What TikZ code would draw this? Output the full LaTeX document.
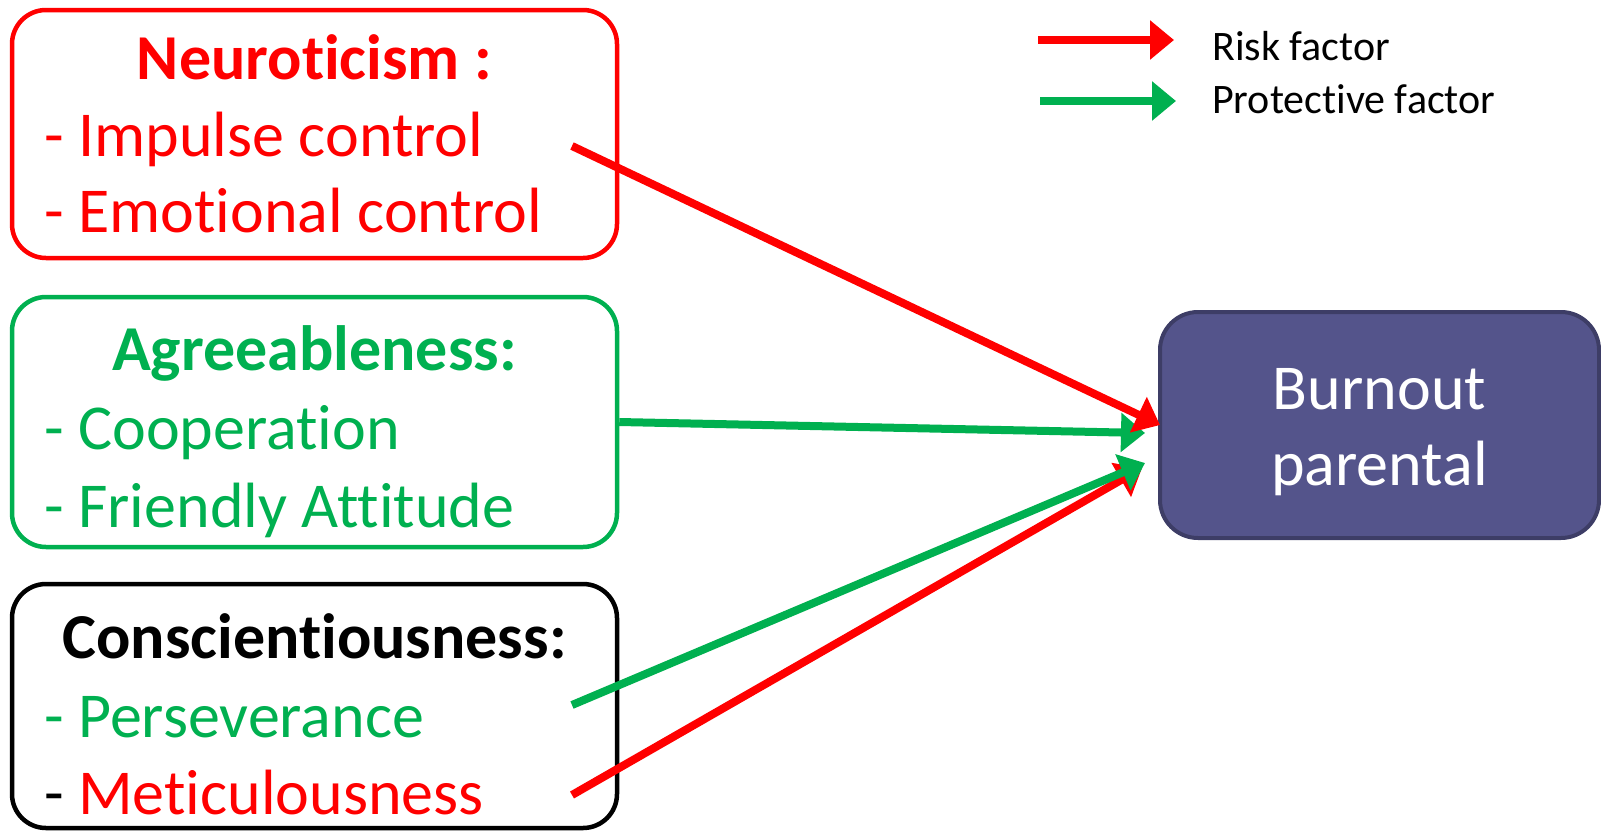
\documentclass[tikz,border=0pt]{standalone}
\usepackage{fontspec}
\setmainfont{Carlito}[RawFeature=-liga]
\usetikzlibrary{arrows.meta}
\definecolor{rred}{RGB}{255,0,0}
\definecolor{ggreen}{RGB}{0,176,80}
\definecolor{bfill}{RGB}{84,84,139}
\definecolor{bdraw}{RGB}{61,61,102}
\tikzset{
  factorbox/.style={draw, line width=4.5pt, rounded corners=34pt, minimum width=605pt, minimum height=250pt, inner sep=0pt},
  headtxt/.style={font=\fontsize{64}{77}\selectfont\bfseries, anchor=base, inner sep=0pt},
  itemtxt/.style={font=\fontsize{64}{77}\selectfont, anchor=base west, inner sep=0pt},
  legtxt/.style={font=\fontsize{42}{50}\selectfont, anchor=base west, inner sep=0pt},
  link/.style={line width=8pt, -{Triangle[length=24pt,width=38pt]}},
}
\begin{document}
\begin{tikzpicture}[x=1pt,y=-1pt]
\useasboundingbox (0,0) rectangle (1601,833);
% boxes
\node[factorbox, draw=rred, minimum height=248pt] (neu) at (314.5,134) {};
\node[factorbox, draw=ggreen] (agr) at (314.5,422) {};
\node[factorbox, draw=black, minimum height=244pt] (con) at (314.5,706) {};
\node[draw=bdraw, fill=bfill, line width=4pt, rounded corners=38pt, minimum width=439pt, minimum height=226pt, inner sep=0pt] (burn) at (1379.5,425) {};
% texts
\node[headtxt, text=rred] (neuh) at (314.5,79) {Neuroticism :};
\node[itemtxt, text=rred] (neu1) at (44,156) {- Impulse control};
\node[itemtxt, text=rred] (neu2) at (44,232) {- Emotional control};
\node[headtxt, text=ggreen] (agrh) at (314.5,370) {Agreeableness:};
\node[itemtxt, text=ggreen] (agr1) at (44,449) {- Cooperation};
\node[itemtxt, text=ggreen] (agr2) at (44,527) {- Friendly Attitude};
\node[headtxt, text=black] (conh) at (314.5,658) {Conscientiousness:};
\node[itemtxt, text=ggreen] (con1) at (44,737) {- Perseverance};
\node[itemtxt] (con2) at (44,814) {- \textcolor{rred}{Meticulousness}};
\node[font=\fontsize{64}{77}\selectfont, text=white, anchor=base, inner sep=0pt] (burn1) at (1379.5,409) {Burnout};
\node[font=\fontsize{64}{77}\selectfont, text=white, anchor=base, inner sep=0pt] (burn2) at (1379.5,485) {parental};
% arrow ends
\coordinate (s1) at (572,146);
\coordinate (t1) at (1160,425);
\coordinate (t2) at (1145,433);
\coordinate (s3) at (572,705);
\coordinate (t3) at (1145,463);
\coordinate (s4) at (572,795);
\coordinate (t4) at (1142,468);
% arrows
\draw[link, ggreen] (agr.east) -- (t2);
\draw[link, rred] (s1) -- (t1);
\draw[link, rred] (s4) -- (t4);
\draw[link, ggreen] (s3) -- (t3);
% legend
\coordinate (l1a) at (1038,40);
\coordinate (l1b) at (1174,40);
\coordinate (l2a) at (1040,101);
\coordinate (l2b) at (1176,101);
\draw[link, rred] (l1a) -- (l1b);
\draw[link, ggreen] (l2a) -- (l2b);
\node[legtxt] (leg1) at (1212,60) {Risk factor};
\node[legtxt] (leg2) at (1212,113) {Protective factor};
\end{tikzpicture}
\end{document}
